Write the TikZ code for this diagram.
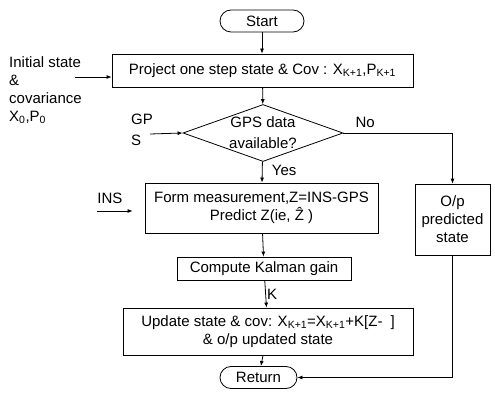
\documentclass[tikz,border=0pt]{standalone}
\usepackage{fontspec}
\setmainfont{Liberation Sans}
\usetikzlibrary{arrows.meta,positioning,shapes.geometric,calc}
\newcommand{\kone}{\textsubscript{K+1}}

\begin{document}
\begin{tikzpicture}[x=1pt, y=-1pt, font=\fontsize{15}{18}\selectfont,
      blk/.style={draw, line width=0.8pt, align=center, inner sep=2pt},
      term/.style={blk, rounded corners=11pt, minimum height=22pt},
      dec/.style={draw, line width=0.8pt, diamond, aspect=2.8, inner sep=0pt,
                  minimum width=160pt, minimum height=57pt, align=center},
      lbl/.style={align=left, inner sep=0pt},
      arr/.style={-{Latex[length=5pt,width=4pt]}, line width=0.8pt}]
    \useasboundingbox (0,0) rectangle (495,401);
    \node[term, minimum width=84pt] (start) at (262,21) {Start};
    \node[blk, minimum width=301pt, minimum height=33pt] (proj) at (262.5,70.5)
      {Project one step state \& Cov : X\kone,P\kone};
    \node[dec] (gps) at (263,133) {GPS data\\[3pt]available?};
    \node[blk, minimum width=233pt, minimum height=50pt] (form) at (261.5,208)
      {Form measurement,Z=INS-GPS\\Predict Z(ie, \^{Z} )};
    \node[blk, minimum width=75pt, minimum height=71pt] (opst) at (452.5,219.5)
      {O/p\\predicted\\state};
    \node[blk, minimum width=174pt, minimum height=23pt] (gain) at (264,268.5) {Compute Kalman gain};
    \node[blk, minimum width=290pt, minimum height=47pt] (upd) at (268,331.5)
      {Update state \& cov: X\kone=X\kone+K[Z-\hspace{8pt}]\\\& o/p updated state};
    \node[term, minimum width=77pt] (ret) at (258.5,377.5) {Return};
    % inputs on the left
    \node[lbl, anchor=north west] (init) at (9,56) {Initial state\\\&\\covariance\\X\textsubscript{0},P\textsubscript{0}};
    \node[lbl, anchor=west] (gpsin) at (131,129.5) {GP\\[3pt]S};
    \node (ins) at (110,198) {INS};
    \coordinate (initfeed) at (75,77);
    \coordinate (gpsfeed) at (150,134);
    \coordinate (insfeed) at (97,211);
    \draw[arr] (initfeed) -- (initfeed -| proj.west);
    \draw[arr] (gpsfeed) -- (gps.west);
    \draw[arr, shorten >=12pt] (insfeed) -- (insfeed -| form.west);
    % main flow
    \draw[arr] (start.south) -- (start.south |- proj.north);
    \draw[arr] (proj) -- (gps);
    \draw[arr] (gps) -- node[right=6pt, pos=0.4] {Yes} (form);
    \draw[arr] (gps.east) -| node[pos=0.1, above=2pt] {No} (opst.north);
    \draw[arr] (form) -- (gain);
    \draw[arr] (gain) -- node[right, inner sep=1pt] {K} (upd);
    \draw[arr] (upd) -- (ret);
    \draw[arr] (opst.south) |- (ret.east);
  \end{tikzpicture}
\end{document}
